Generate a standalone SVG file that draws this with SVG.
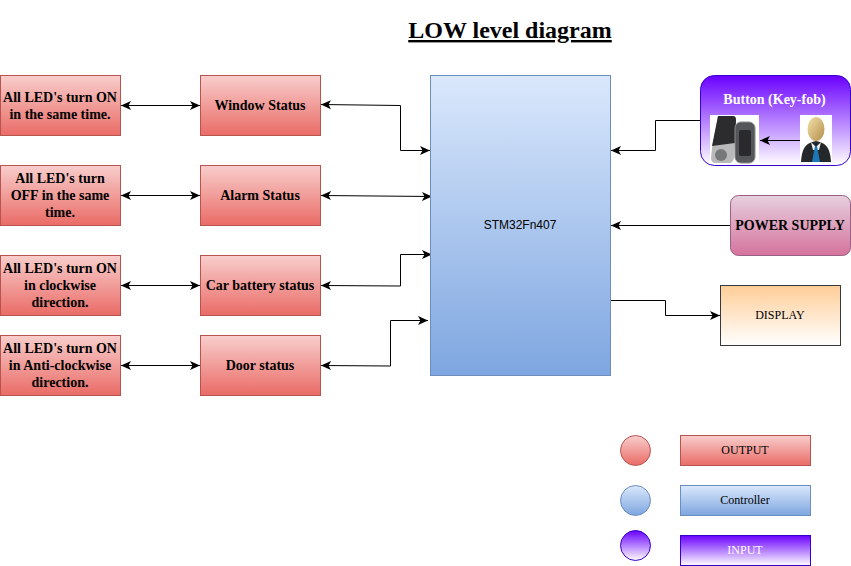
<svg xmlns="http://www.w3.org/2000/svg" width="851" height="566" viewBox="0 0 851 566">
<style>
text{font-family:"Liberation Serif","Times New Roman",serif;text-anchor:middle;fill:#000}
.b{font-weight:bold;font-size:14px}
.n{font-size:12px}
.red{fill:url(#gr);stroke:#b85450}
.blue{fill:url(#gb);stroke:#6c8ebf}
.pur{fill:url(#gp);stroke:#3700cc}
.c{fill:none;stroke:#000;stroke-width:1}
.a2{marker-start:url(#ah);marker-end:url(#ah)}
.a1{marker-end:url(#ah)}
</style>
<defs>
<linearGradient id="gr" x1="0" y1="0" x2="0" y2="1"><stop offset="0" stop-color="#f8cecc"/><stop offset="1" stop-color="#ea6b66"/></linearGradient>
<linearGradient id="gb" x1="0" y1="0" x2="0" y2="1"><stop offset="0" stop-color="#dae8fc"/><stop offset="1" stop-color="#7ea6e0"/></linearGradient>
<linearGradient id="gp" x1="0" y1="0" x2="0" y2="1"><stop offset="0" stop-color="#6a00ff"/><stop offset="1" stop-color="#ffffff"/></linearGradient>
<linearGradient id="gm" x1="0" y1="0" x2="0" y2="1"><stop offset="0" stop-color="#e6d0de"/><stop offset="1" stop-color="#d5739d"/></linearGradient>
<linearGradient id="go" x1="0" y1="0" x2="0" y2="1"><stop offset="0" stop-color="#ffcd97"/><stop offset="1" stop-color="#ffffff"/></linearGradient>
<linearGradient id="gf" x1="0" y1="0" x2="1" y2="1"><stop offset="0" stop-color="#f3e2a8"/><stop offset="1" stop-color="#b58d4c"/></linearGradient>
<marker id="ah" markerUnits="userSpaceOnUse" markerWidth="12" markerHeight="10" refX="10" refY="5" orient="auto-start-reverse"><path d="M0 0.500L10 5L0 9.500L2.500 5Z" fill="#000"/></marker>
</defs>

<text x="510" y="38" style="font-size:24px;font-weight:bold;text-decoration:underline">LOW level diagram</text>

<g id="connectors">
<path class="c a2" d="M121 105.500H200"/>
<path class="c a2" d="M121 195.500H200"/>
<path class="c a2" d="M121 285.500H200"/>
<path class="c a2" d="M121 365.500H200"/>
<path class="c a2" d="M321 104.500L400.500 105.500V150.500H430"/>
<path class="c a2" d="M321 195.500L432 196.500"/>
<path class="c a2" d="M321 285.500L400.500 286V254.500H432"/>
<path class="c a2" d="M321 365.500L390.500 366V320.500H428"/>
<path class="c a1" d="M700 120.500H655.500V150.500H611"/>
<path class="c a1" d="M730 225.500H611"/>
<path class="c a1" d="M611 300.500H665.500V315.500H720"/>
</g>

<g id="led1"><rect class="red" x="0.500" y="75.500" width="120" height="60"/><text class="b" x="60" y="102">All LED's turn ON</text><text class="b" x="60" y="119">in the same time.</text></g>
<g id="led2"><rect class="red" x="0.500" y="165.500" width="120" height="60"/><text class="b" x="60" y="183">All LED's turn</text><text class="b" x="60" y="200">OFF in the same</text><text class="b" x="60" y="217">time.</text></g>
<g id="led3"><rect class="red" x="0.500" y="255.500" width="120" height="60"/><text class="b" x="60" y="273">All LED's turn ON</text><text class="b" x="60" y="290">in clockwise</text><text class="b" x="60" y="307">direction.</text></g>
<g id="led4"><rect class="red" x="0.500" y="335.500" width="120" height="60"/><text class="b" x="60" y="353">All LED's turn ON</text><text class="b" x="60" y="370">in Anti-clockwise</text><text class="b" x="60" y="387">direction.</text></g>

<g id="window"><rect class="red" x="200.500" y="75.500" width="120" height="60"/><text class="b" x="260" y="110">Window Status</text></g>
<g id="alarm"><rect class="red" x="200.500" y="165.500" width="120" height="60"/><text class="b" x="260" y="200">Alarm Status</text></g>
<g id="battery"><rect class="red" x="200.500" y="255.500" width="120" height="60"/><text class="b" x="260" y="290">Car battery status</text></g>
<g id="door"><rect class="red" x="200.500" y="335.500" width="120" height="60"/><text class="b" x="260" y="370">Door status</text></g>

<g id="controller"><rect class="blue" x="430.500" y="75.500" width="180" height="300"/><text x="520" y="229" style="font-family:'Liberation Sans',Arial,sans-serif;font-size:12px">STM32Fn407</text></g>

<g id="button">
<rect class="pur" x="700.500" y="75.500" width="150" height="90" rx="14"/>
<text x="774.500" y="104" style="font-weight:bold;font-size:14px;fill:#fff">Button (Key-fob)</text>
<rect x="710" y="115" width="49" height="49" fill="#fff"/>
<path d="M718 116L733 116Q736 116 736 120L734 158Q733 163 729 163L716 163Q711 163 711 158L712 148Z" fill="#b9b9b9"/>
<path d="M718 116L733 116Q736 116 736 120L735 143L712 146Z" fill="#2c2c2e"/>
<circle cx="721" cy="155" r="6" fill="#77787a"/>
<rect x="735" y="122" width="20" height="41" rx="6" fill="#55565a" stroke="#8a8a8a"/>
<rect x="739" y="130" width="12" height="26" rx="2" fill="#2a2a2c"/>
<rect x="800" y="115" width="32" height="47" fill="#fff"/>
<path d="M801 162C802 146 807 143 816 141C825 143 830 146 831 162Z" fill="#25282b"/>
<path d="M811 142L816 147L821 142L819 150H813Z" fill="#f2f2f2"/>
<path d="M815 146H817L820 162H812Z" fill="#1c78b8"/>
<ellipse cx="816" cy="129" rx="8.500" ry="12" fill="url(#gf)"/>
<path class="c a1" d="M800 140.500H760"/>
</g>

<g id="power"><rect x="730.500" y="195.500" width="120" height="60" rx="8" fill="url(#gm)" stroke="#996185"/><text class="b" x="790" y="230">POWER SUPPLY</text></g>
<g id="display"><rect x="720.500" y="285.500" width="120" height="60" fill="url(#go)" stroke="#36393d"/><text class="n" x="780" y="319">DISPLAY</text></g>

<g id="legend-output"><circle class="red" cx="635.500" cy="450.500" r="15"/><rect class="red" x="680.500" y="435.500" width="130" height="30"/><text class="n" x="745" y="454">OUTPUT</text></g>
<g id="legend-controller"><circle class="blue" cx="635.500" cy="500.500" r="15"/><rect class="blue" x="680.500" y="485.500" width="130" height="30"/><text class="n" x="745" y="504">Controller</text></g>
<g id="legend-input"><circle class="pur" cx="635.500" cy="545.500" r="15"/><rect class="pur" x="680.500" y="535.500" width="130" height="30"/><text class="n" x="745" y="554" style="fill:#fff">INPUT</text></g>
</svg>
